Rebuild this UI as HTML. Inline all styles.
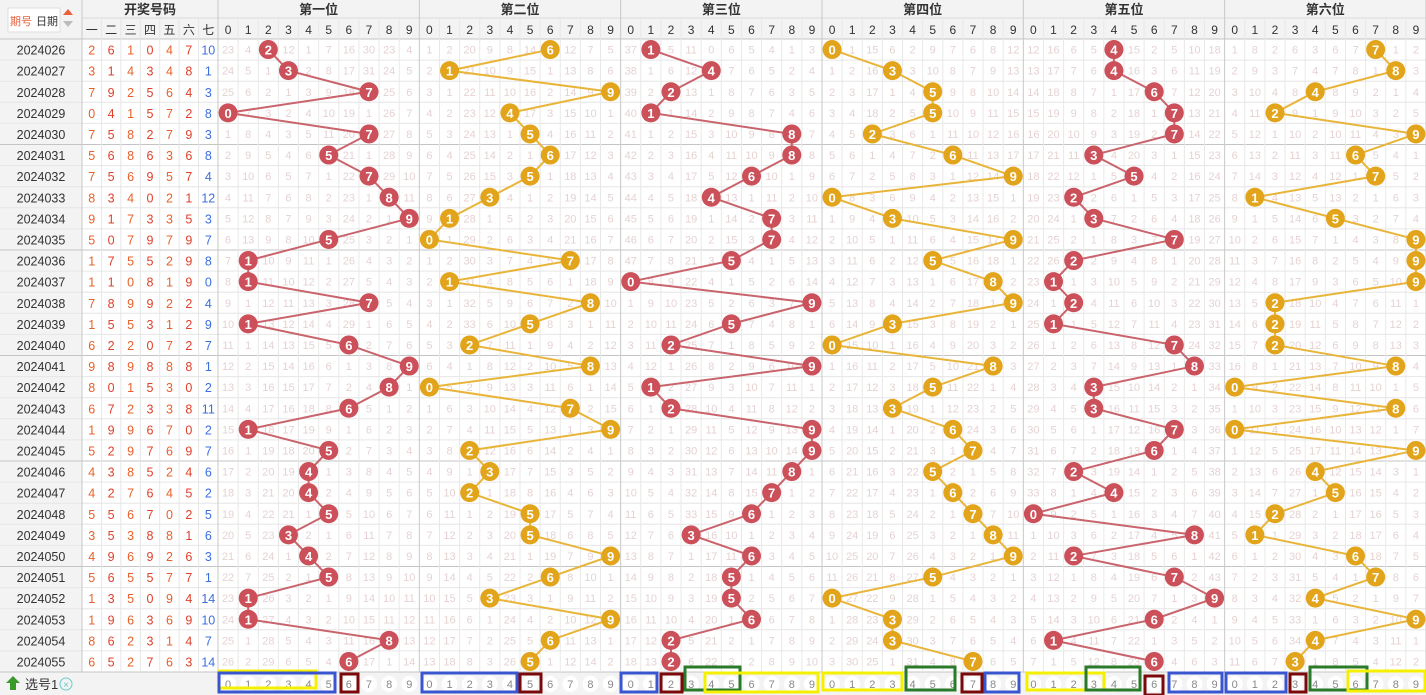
<!DOCTYPE html>
<html><head><meta charset="utf-8"><style>
html,body{margin:0;padding:0;background:#fff;width:1426px;height:695px;overflow:hidden}
svg text{font-family:"Liberation Sans","Noto Sans CJK SC",sans-serif}
</style></head><body>
<svg id="s" width="1426" height="695" xmlns="http://www.w3.org/2000/svg"></svg>
<script>
var D=[
"2024026 2 6 1 0 4 7 10","2024027 3 1 4 3 4 8 1","2024028 7 9 2 5 6 4 3","2024029 0 4 1 5 7 2 8","2024030 7 5 8 2 7 9 3",
"2024031 5 6 8 6 3 6 8","2024032 7 5 6 9 5 7 4","2024033 8 3 4 0 2 1 12","2024034 9 1 7 3 3 5 3","2024035 5 0 7 9 7 9 7",
"2024036 1 7 5 5 2 9 8","2024037 1 1 0 8 1 9 0","2024038 7 8 9 9 2 2 4","2024039 1 5 5 3 1 2 9","2024040 6 2 2 0 7 2 7",
"2024041 9 8 9 8 8 8 1","2024042 8 0 1 5 3 0 2","2024043 6 7 2 3 3 8 11","2024044 1 9 9 6 7 0 2","2024045 5 2 9 7 6 9 7",
"2024046 4 3 8 5 2 4 6","2024047 4 2 7 6 4 5 2","2024048 5 5 6 7 0 2 5","2024049 3 5 3 8 8 1 6","2024050 4 9 6 9 2 6 3",
"2024051 5 6 5 5 7 7 1","2024052 1 3 5 0 9 4 14","2024053 1 9 6 3 6 9 10","2024054 8 6 2 3 1 4 7","2024055 6 5 2 7 6 3 14"].map(function(r){return r.split(" ")});
var s=document.getElementById("s"),h="";
var R0=39,RH=21.1,SX=218,CW=20.133,DX=82,DW=19.43;
function rect(x,y,w,hh,f,st,sw){h+='<rect x="'+x+'" y="'+y+'" width="'+w+'" height="'+hh+'" fill="'+(f||"none")+'"'+(st?' stroke="'+st+'" stroke-width="'+(sw||1)+'"':'')+'/>'}
function line(x1,y1,x2,y2,c,w){h+='<line x1="'+x1+'" y1="'+y1+'" x2="'+x2+'" y2="'+y2+'" stroke="'+c+'" stroke-width="'+(w||1)+'"/>'}
function txt(x,y,t,sz,c,b){h+='<text x="'+x+'" y="'+y+'" font-size="'+sz+'" fill="'+c+'" text-anchor="middle"'+(b?' font-weight="bold"':'')+'>'+t+'</text>'}
// backgrounds
rect(0,0,1426,39,"#f3f3f3");rect(0,0,82,695,"#f3f3f3");rect(0,672,1426,23,"#f3f3f3");
// grid
for(var i=0;i<=30;i++){var y=R0+i*RH;line(0,y,1426,y,i%5==0?"#c4c4c4":"#e6e6e6",1)}
line(82,18,1426,18,"#d8d8d8");
for(var c=0;c<=7;c++){var x=DX+c*DW;line(x,c==0||c==7?0:18,x,672,c==0||c==7?"#c8c8c8":"#e6e6e6")}
for(var c=0;c<=60;c++){var x=SX+c*CW;line(x,c%10==0?0:18,x,672,c%10==0?"#c8c8c8":"#e8e8e8")}
// headers
txt(150,14,"开奖号码",13,"#333",1);
var cn=["一","二","三","四","五","六","七"];for(var c=0;c<7;c++)txt(DX+c*DW+DW/2,34,cn[c],12,"#333");
var sn=["第一位","第二位","第三位","第四位","第五位","第六位"];
for(var k=0;k<6;k++){txt(SX+k*10*CW+5*CW,14,sn[k],13,"#333",1);for(var c=0;c<10;c++)txt(SX+(k*10+c)*CW+CW/2,34,c,12,"#333")}
rect(8,8,52,24,"#fff","#ddd");txt(21,25,"期号",11,"#e8603c");txt(47,25,"日期",11,"#333");
h+='<path d="M63 15 L68 9 L73 15Z" fill="#e8603c"/><path d="M63 21 L68 27 L73 21Z" fill="#bbb"/>';
// draw numbers & misses
var init=[[23,4,1,12,1,7,16,30,23,4],[1,2,20,9,8,14,0,12,7,5],[37,0,5,11,0,6,5,4,1,3],[0,1,15,6,2,9,7,6,8,12],[12,16,6,5,0,15,2,5,10,18],[1,8,2,6,3,6,7,0,1,2]];
var miss=[];for(var k=0;k<6;k++)miss.push(init[k].slice());
var pts=[[],[],[],[],[],[]];
for(var i=0;i<30;i++){var r=D[i],cy=R0+i*RH+RH/2;
 txt(41,cy+5,r[0],12.5,"#333");
 for(var c=0;c<7;c++)txt(DX+c*DW+DW/2,cy+5,r[c+1],12.5,c==6?"#3b6fe0":(c%2?"#e0402a":"#e8602a"));
 for(var k=0;k<6;k++){var v=+r[k+1];
  for(var d=0;d<10;d++){if(i>0)miss[k][d]= d==v?0:miss[k][d]+1; if(d==v)miss[k][d]=0;
   if(d!=v)txt(SX+(k*10+d)*CW+CW/2,cy+4,miss[k][d],11,"#e6d2d2");}
  pts[k].push([SX+(k*10+v)*CW+CW/2,cy,v]);}
}
for(var k=0;k<6;k++){var col=k%2?"#e2a41a":"#cc505a",lc=k%2?"#e8b53a":"#c9646c";
 var p=pts[k].map(function(q){return q[0]+","+q[1]}).join(" ");
 h+='<polyline points="'+p+'" fill="none" stroke="'+lc+'" stroke-width="2"/>';
 pts[k].forEach(function(q){h+='<circle cx="'+q[0]+'" cy="'+q[1]+'" r="9.5" fill="'+col+'"/>';txt(q[0],q[1]+5,q[2],13,"#fff",1)})}
// footer
h+='<path d="M10 690 L10 683 L6 683 L13 676 L20 683 L16 683 L16 690Z" fill="#3a9a2a"/>';
h+='<text x="25" y="689" font-size="13" fill="#333">选号1</text><circle cx="66" cy="684" r="6" fill="none" stroke="#6cc"/><text x="66" y="688" font-size="10" fill="#6cc" text-anchor="middle">×</text>';
for(var k=0;k<6;k++)for(var d=0;d<10;d++){var x=SX+(k*10+d)*CW+CW/2;h+='<circle cx="'+x+'" cy="684" r="8" fill="#fff"/>';txt(x,688,d,11,"#888")}
var B=[["#f5f000",219,671,97,17],["#3a55d0",219,673,116,19],["#7a0a0a",341,674,17,18],
["#3a55d0",422,673,95,19],["#7a0a0a",520,674,21,18],
["#3a55d0",621,673,36,19],["#7a0a0a",661,674,21,18],["#2a7a2a",685,667,55,23],["#f5f000",705,673,113,19],
["#f5f000",823,673,79,17],["#2a7a2a",906,667,49,23],["#7a0a0a",962,674,20,18],["#3a55d0",985,673,34,19],
["#f5f000",1027,673,77,17],["#2a7a2a",1086,667,54,23],["#7a0a0a",1145,676,18,19],["#3a55d0",1169,673,53,19],
["#3a55d0",1226,673,60,19],["#7a0a0a",1290,674,16,18],["#2a7a2a",1310,667,57,23],["#f5f000",1348,671,77,20]];
B.forEach(function(b){rect(b[1],b[2],b[3],b[4],"none",b[0],3)});
s.innerHTML=h;
</script>
</body></html>
